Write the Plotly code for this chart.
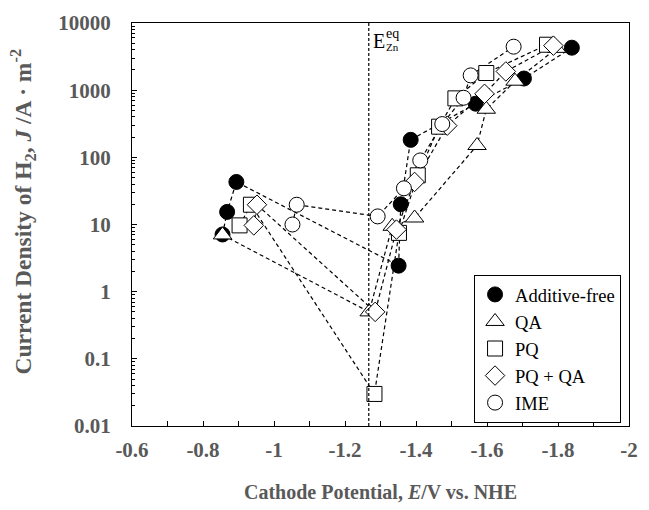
import plotly.graph_objects as go

# ---- data ----
af_x = [-0.855, -0.868, -0.894, -1.351, -1.357, -1.385, -1.568, -1.704, -1.839]
af_y = [7.1, 15.4, 43, 2.44, 20, 182, 629, 1490, 4290]

qa_x = [-0.855, -1.268, -1.333, -1.396, -1.572, -1.598, -1.679, -1.796]
qa_y = [7.0, 0.5, 9.4, 12.5, 150, 520, 1360, 4190]

pq_x = [-0.903, -0.935, -1.283, -1.352, -1.405, -1.465, -1.511, -1.598, -1.769]
pq_y = [9.7, 19.7, 0.03, 7.5, 54, 286, 755, 1800, 4750]

pqqa_x = [-0.943, -0.952, -1.285, -1.345, -1.396, -1.488, -1.593, -1.653, -1.787]
pqqa_y = [9.7, 19.7, 0.5, 8.4, 43, 296, 883, 1900, 4600]

ime_x = [-1.052, -1.064, -1.292, -1.366, -1.412, -1.474, -1.534, -1.554, -1.675]
ime_y = [10, 19.7, 13.2, 34.6, 90, 313, 771, 1660, 4440]

e_zn_eq = -1.267

x_ticks = [-0.6, -0.8, -1.0, -1.2, -1.4, -1.6, -1.8, -2.0]
x_tick_text = ["-0.6", "-0.8", "-1", "-1.2", "-1.4", "-1.6", "-1.8", "-2"]
y_ticks = [0.01, 0.1, 1, 10, 100, 1000, 10000]
y_tick_text = ["0.01", "0.1", "1", "10", "100", "1000", "10000"]

series = [
    ("Additive-free", af_x, af_y, "circle", "black"),
    ("QA", qa_x, qa_y, "triangle-up", "white"),
    ("PQ", pq_x, pq_y, "square", "white"),
    ("PQ + QA", pqqa_x, pqqa_y, "diamond", "white"),
    ("IME", ime_x, ime_y, "circle", "white"),
]

SERIF = "Liberation Serif"
GRAY = "#595959"

fig = go.Figure()

# dashed connecting lines (no legend)
for name, xs, ys, sym, fill in series:
    fig.add_trace(go.Scatter(
        x=xs, y=ys, mode="lines", showlegend=False, hoverinfo="skip",
        line=dict(color="black", width=1.2, dash="4px,3px"),
    ))

# markers
sizes = {"circle": 15, "triangle-up": 16, "square": 15, "diamond": 15}
for name, xs, ys, sym, fill in series:
    fig.add_trace(go.Scatter(
        x=xs, y=ys, mode="markers", name=name,
        marker=dict(symbol=sym, size=sizes[sym], color=fill,
                    line=dict(color="black", width=1)),
    ))

# equilibrium potential line
fig.add_shape(type="line", xref="x", yref="paper", x0=e_zn_eq, x1=e_zn_eq,
              y0=0, y1=1, line=dict(color="black", width=1.2, dash="3px,2px"))
fig.add_annotation(x=e_zn_eq, y=1, xref="x", yref="paper", xanchor="left",
                   yanchor="top", xshift=2, yshift=-5, showarrow=False,
                   text="E", font=dict(family=SERIF, size=20, color="black"))
fig.add_annotation(x=e_zn_eq, y=1, xref="x", yref="paper", xanchor="left",
                   yanchor="top", xshift=15, yshift=-1, showarrow=False,
                   text="eq", font=dict(family=SERIF, size=14, color="black"))
fig.add_annotation(x=e_zn_eq, y=1, xref="x", yref="paper", xanchor="left",
                   yanchor="top", xshift=15, yshift=-16, showarrow=False,
                   text="Zn", font=dict(family=SERIF, size=11, color="black"))

# y-axis title (placed as an annotation to match the reference position)
fig.add_annotation(x=-0.2194, y=0.532, xref="paper", yref="paper",
                   xanchor="center", yanchor="middle", textangle=-90, showarrow=False,
                   text="Current Density of H<sub>2</sub>, <i>J</i> /A · m<sup>-2</sup>",
                   font=dict(family=SERIF, size=23.5, color=GRAY, weight="bold"))

fig.update_layout(
    width=649, height=510,
    margin=dict(l=132, r=11, t=21, b=81),
    paper_bgcolor="white", plot_bgcolor="white",
    font=dict(family=SERIF, color=GRAY, size=20),
    showlegend=True,
    legend=dict(
        x=0.984, y=0.375, xanchor="right", yanchor="top",
        bgcolor="white", bordercolor="black", borderwidth=1,
        font=dict(family=SERIF, size=18.5, color="black"),
        tracegroupgap=0, itemwidth=30,
    ),
    xaxis=dict(
        range=[-0.6, -2.0], tickmode="array", tickvals=x_ticks, ticktext=x_tick_text,
        ticks="inside", ticklen=5, tickcolor="black", tickwidth=1,
        minor=dict(dtick=0.1, tick0=-0.6, ticks="inside", ticklen=5, tickcolor="black"),
        showgrid=False, zeroline=False,
        showline=True, linecolor="black", linewidth=1.2, mirror=True,
        tickfont=dict(family=SERIF, size=21, color=GRAY, weight="bold"),
        ticklabelstandoff=5,
        title=dict(text="Cathode Potential, <i>E</i>/V vs. NHE", standoff=23,
                   font=dict(family=SERIF, size=20, color=GRAY, weight="bold")),
    ),
    yaxis=dict(
        type="log", range=[-2, 4], tickmode="array", tickvals=y_ticks, ticktext=y_tick_text,
        ticks="inside", ticklen=5, tickcolor="black", tickwidth=1,
        minor=dict(dtick="D1", ticks="inside", ticklen=3, tickcolor="black"),
        showgrid=False, zeroline=False,
        showline=True, linecolor="black", linewidth=1.2, mirror=True,
        tickfont=dict(family=SERIF, size=21, color=GRAY, weight="bold"),
        ticklabelstandoff=16,
    ),
)

fig.write_html(
    "out.html",
    config={"displayModeBar": False},
    post_script="document.body.style.margin='0';document.body.style.overflow='hidden';",
)
